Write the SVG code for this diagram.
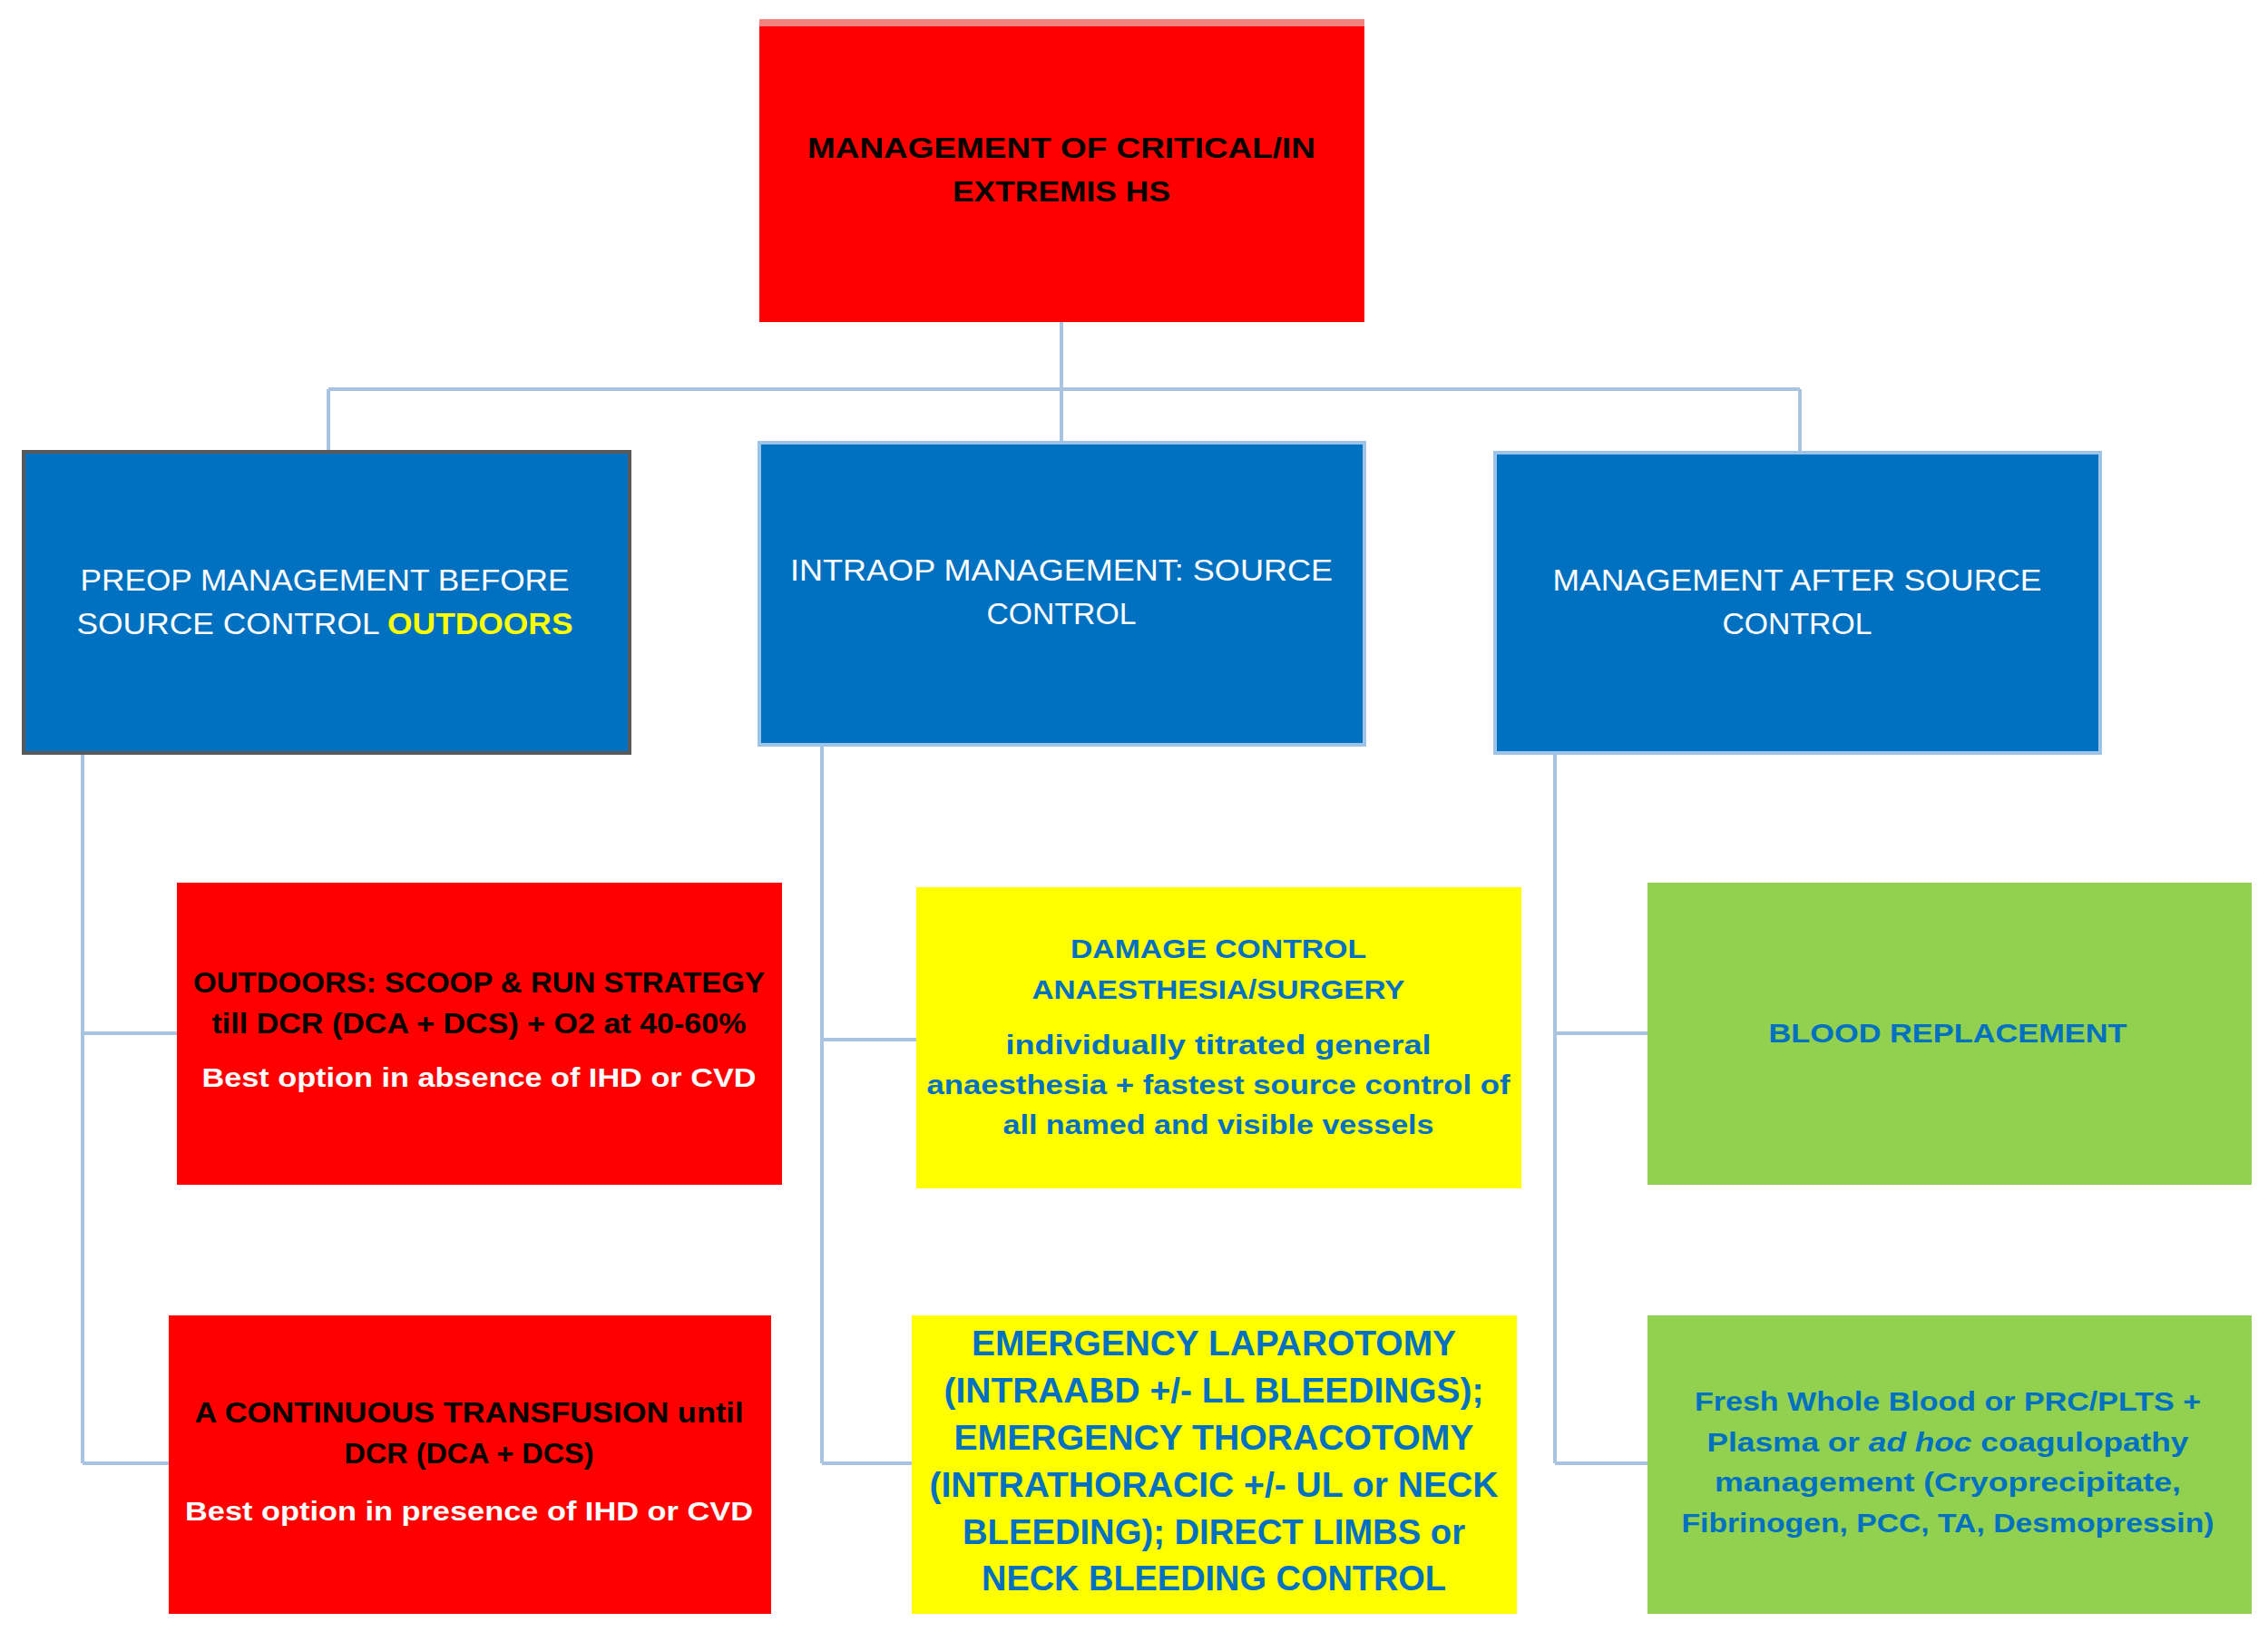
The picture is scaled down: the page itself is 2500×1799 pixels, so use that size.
<svg xmlns="http://www.w3.org/2000/svg" width="2500" height="1799" viewBox="0 0 2500 1799">
<style>
text{font-family:"Liberation Sans",Arial,sans-serif;text-anchor:middle}
.con{fill:none;stroke:#A9C4E0;stroke-width:4}
.red{fill:#FF0000}
.blue{fill:#0070C0}
.yel{fill:#FFFF00}
.grn{fill:#92D050}
.w{fill:#FFFFFF;font-size:34px}
.k{fill:#000000;font-size:32px;font-weight:bold}
.kw{fill:#FFFFFF;font-size:30px;font-weight:bold}
.b{fill:#0070C0;font-size:30px;font-weight:bold}
.b2{fill:#0070C0;font-size:38px;font-weight:bold}
</style>
<rect width="2500" height="1799" fill="#FFFFFF"/>
<g id="connectors">
<path class="con" d="M1170,355V488M362,429H1984M362,429V498M1984,429V499"/>
<path class="con" d="M91,830V1613M91,1139H195M91,1613H186"/>
<path class="con" d="M906,821V1613M906,1146H1010M906,1613H1005"/>
<path class="con" d="M1714,830V1613M1714,1139H1816M1714,1613H1816"/>
</g>
<g id="root">
<rect class="red" x="837" y="21" width="667" height="334"/>
<rect x="837" y="21" width="667" height="8" fill="#F4847F"/>
<text class="k" x="1170" y="174" textLength="560" lengthAdjust="spacingAndGlyphs">MANAGEMENT OF CRITICAL/IN</text>
<text class="k" x="1170" y="222" textLength="240" lengthAdjust="spacingAndGlyphs">EXTREMIS HS</text>
</g>
<g id="preop">
<rect class="blue" x="26" y="498" width="668" height="332" stroke="#595959" stroke-width="4"/>
<text class="w" x="358" y="651" textLength="539" lengthAdjust="spacingAndGlyphs">PREOP MANAGEMENT BEFORE</text>
<text class="w" x="358" y="699" textLength="547" lengthAdjust="spacingAndGlyphs">SOURCE CONTROL <tspan fill="#FFFF00" font-weight="bold">OUTDOORS</tspan></text>
</g>
<g id="intraop">
<rect class="blue" x="837" y="488" width="667" height="333" stroke="#9DC3E6" stroke-width="4"/>
<text class="w" x="1170" y="640" textLength="598" lengthAdjust="spacingAndGlyphs">INTRAOP MANAGEMENT: SOURCE</text>
<text class="w" x="1170" y="688" textLength="165" lengthAdjust="spacingAndGlyphs">CONTROL</text>
</g>
<g id="after">
<rect class="blue" x="1648" y="499" width="667" height="331" stroke="#9DC3E6" stroke-width="4"/>
<text class="w" x="1981" y="651" textLength="539" lengthAdjust="spacingAndGlyphs">MANAGEMENT AFTER SOURCE</text>
<text class="w" x="1981" y="699" textLength="165" lengthAdjust="spacingAndGlyphs">CONTROL</text>
</g>
<g id="outdoors">
<rect class="red" x="195" y="973" width="667" height="333"/>
<text class="k" x="528" y="1094" textLength="630" lengthAdjust="spacingAndGlyphs">OUTDOORS: SCOOP &amp; RUN STRATEGY</text>
<text class="k" x="528" y="1139" textLength="589" lengthAdjust="spacingAndGlyphs">till DCR (DCA + DCS) + O2 at 40-60%</text>
<text class="kw" x="528" y="1198" textLength="611" lengthAdjust="spacingAndGlyphs">Best option in absence of IHD or CVD</text>
</g>
<g id="transfusion">
<rect class="red" x="186" y="1450" width="664" height="329"/>
<text class="k" x="517" y="1568" textLength="605" lengthAdjust="spacingAndGlyphs">A CONTINUOUS TRANSFUSION until</text>
<text class="k" x="517" y="1613" textLength="275" lengthAdjust="spacingAndGlyphs">DCR (DCA + DCS)</text>
<text class="kw" x="517" y="1676" textLength="626" lengthAdjust="spacingAndGlyphs">Best option in presence of IHD or CVD</text>
</g>
<g id="damage">
<rect class="yel" x="1010" y="978" width="667" height="332"/>
<text class="b" x="1343" y="1056" textLength="326" lengthAdjust="spacingAndGlyphs">DAMAGE CONTROL</text>
<text class="b" x="1343" y="1101" textLength="411" lengthAdjust="spacingAndGlyphs">ANAESTHESIA/SURGERY</text>
<text class="b" x="1343" y="1162" textLength="469" lengthAdjust="spacingAndGlyphs">individually titrated general</text>
<text class="b" x="1343" y="1206" textLength="643" lengthAdjust="spacingAndGlyphs">anaesthesia + fastest source control of</text>
<text class="b" x="1343" y="1250" textLength="475" lengthAdjust="spacingAndGlyphs">all named and visible vessels</text>
</g>
<g id="emergency">
<rect class="yel" x="1005" y="1450" width="667" height="329"/>
<text class="b2" x="1338" y="1494" textLength="534" lengthAdjust="spacingAndGlyphs">EMERGENCY LAPAROTOMY</text>
<text class="b2" x="1338" y="1546" textLength="595" lengthAdjust="spacingAndGlyphs">(INTRAABD +/- LL BLEEDINGS);</text>
<text class="b2" x="1338" y="1598" textLength="573" lengthAdjust="spacingAndGlyphs">EMERGENCY THORACOTOMY</text>
<text class="b2" x="1338" y="1650" textLength="627" lengthAdjust="spacingAndGlyphs">(INTRATHORACIC +/- UL or NECK</text>
<text class="b2" x="1338" y="1702" textLength="554" lengthAdjust="spacingAndGlyphs">BLEEDING); DIRECT LIMBS or</text>
<text class="b2" x="1338" y="1753" textLength="512" lengthAdjust="spacingAndGlyphs">NECK BLEEDING CONTROL</text>
</g>
<g id="blood">
<rect class="grn" x="1816" y="973" width="666" height="333"/>
<text class="b" x="2147" y="1149" textLength="395" lengthAdjust="spacingAndGlyphs">BLOOD REPLACEMENT</text>
</g>
<g id="fresh">
<rect class="grn" x="1816" y="1450" width="666" height="329"/>
<text class="b" x="2147" y="1555" textLength="558" lengthAdjust="spacingAndGlyphs">Fresh Whole Blood or PRC/PLTS +</text>
<text class="b" x="2147" y="1600" textLength="531" lengthAdjust="spacingAndGlyphs">Plasma or <tspan font-style="italic">ad hoc</tspan>  coagulopathy</text>
<text class="b" x="2147" y="1644" textLength="514" lengthAdjust="spacingAndGlyphs">management (Cryoprecipitate,</text>
<text class="b" x="2147" y="1689" textLength="587" lengthAdjust="spacingAndGlyphs">Fibrinogen, PCC, TA, Desmopressin)</text>
</g>
</svg>
